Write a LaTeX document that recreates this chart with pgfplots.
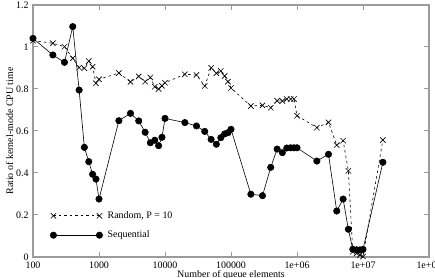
\documentclass[border=0pt]{standalone}
\usepackage{pgfplots}
\pgfplotsset{compat=1.18}
\usepackage{fontspec}
\setmainfont{Liberation Serif}
\definecolor{framegray}{RGB}{155,155,155}

% Kernel-mode CPU time ratio versus queue size
\pgfplotstableread{
n       ratio
100     1.030
200     1.018
300     1.001
400     0.946
500     0.902
600     0.899
700     0.933
800     0.906
900     0.827
1000    0.846
2000    0.876
3000    0.834
4000    0.860
5000    0.835
6000    0.855
7000    0.811
8000    0.800
9000    0.815
10000   0.830
20000   0.870
30000   0.867
40000   0.814
50000   0.901
60000   0.875
70000   0.886
80000   0.862
90000   0.835
100000  0.805
200000  0.719
300000  0.722
400000  0.711
500000  0.744
600000  0.743
700000  0.752
800000  0.752
900000  0.752
1000000 0.673
2000000 0.616
3000000 0.641
4000000 0.533
5000000 0.554
6000000 0.410
7000000 0.025
8000000 0.018
9000000 0.010
10000000 0.002
20000000 0.557
}\randomdata

\pgfplotstableread{
n       ratio
100     1.041
200     0.962
300     0.927
400     1.097
500     0.795
600     0.522
700     0.454
800     0.394
900     0.371
1000    0.276
2000    0.649
3000    0.684
4000    0.648
5000    0.594
6000    0.544
7000    0.556
8000    0.530
9000    0.570
10000   0.660
20000   0.640
30000   0.624
40000   0.598
50000   0.560
60000   0.537
70000   0.568
80000   0.586
90000   0.592
100000  0.608
200000  0.299
300000  0.292
400000  0.427
500000  0.514
600000  0.497
700000  0.519
800000  0.520
900000  0.520
1000000 0.520
2000000 0.457
3000000 0.489
4000000 0.219
5000000 0.276
6000000 0.132
7000000 0.037
8000000 0.034
9000000 0.034
10000000 0.036
20000000 0.451
}\seqdata

\begin{document}
\begin{tikzpicture}
\begin{axis}[
  scale only axis,
  width=396bp, height=252bp,
  xmode=log,
  xmin=100, xmax=1e8,
  ymin=0, ymax=1.2,
  xtick={100,1000,10000,100000,1000000,10000000,100000000},
  xticklabels={100,1000,10000,100000,1e+06,1e+07,1e+08},
  xminorticks=false,
  ytick={0,0.2,0.4,0.6,0.8,1,1.2},
  yticklabels={0,0.2,0.4,0.6,0.8,1,1.2},
  tick align=inside,
  major tick length=5bp,
  axis line style={framegray, line width=1.3bp},
  every tick/.style={framegray, line width=1bp},
  tick label style={font=\fontsize{10}{12}\selectfont, black},
  /pgf/number format/assume math mode=true,
  xticklabel style={yshift=-1bp},
  yticklabel style={xshift=-1bp},
  xlabel={Number of queue elements},
  ylabel={Ratio of kernel-mode CPU time},
  label style={font=\fontsize{10}{12}\selectfont},
  xlabel style={yshift=5bp},
  ylabel style={yshift=-4bp},
  legend cell align=left,
  legend style={draw=none, fill=none, at={(axis description cs:0.043,0.125)}, anchor=west,
    inner sep=0pt, row sep=11bp, column sep=5bp,
    nodes={inner sep=0pt, font=\fontsize{10}{12}\selectfont}},
  legend image code/.code={\draw[mark repeat=1,mark phase=1,#1] plot coordinates {(0bp,0bp) (46bp,0bp)};},
]
\coordinate (bl) at (rel axis cs:0,0);
\coordinate (tr) at (rel axis cs:1,1);
\addplot[black, line width=0.6bp, dash pattern=on 2.5bp off 3bp, mark=x, mark size=3.8bp,
  mark options={solid, line width=0.6bp}] table[x=n, y=ratio] {\randomdata};
\addlegendentry{Random, P = 10}
\addplot[black, line width=0.6bp, mark=*, mark size=3.2bp, mark options={solid, fill=black}]
  table[x=n, y=ratio] {\seqdata};
\addlegendentry{Sequential}
\end{axis}
\pgfresetboundingbox
\path[use as bounding box] ([xshift=-33bp, yshift=-21bp]bl) rectangle ([xshift=6bp, yshift=5bp]tr);
\end{tikzpicture}
\end{document}
